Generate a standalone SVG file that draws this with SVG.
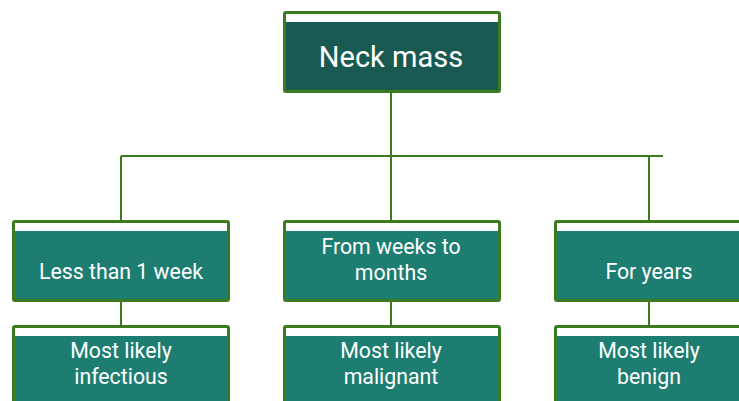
<svg xmlns="http://www.w3.org/2000/svg" width="739" height="401" viewBox="0 0 739 401">
<style>
.frame{fill:#ffffff;stroke:#3b7a1f;stroke-width:3}
.dark{fill:#185a52}
.teal{fill:#1e7d71}
.lbl{font-family:Roboto,"Liberation Sans",sans-serif;fill:#ffffff;text-anchor:middle;font-size:21.3px}
.conn{stroke:#3b7a1f;stroke-width:2;fill:none}
</style>
<rect width="739" height="401" fill="#ffffff"/>
<g id="connectors">
<path class="conn" d="M391 91V156M121 156H663M121 156V222M391 156V222M649 156V222"/>
<path class="conn" d="M121 300V326M391 300V326M649 300V326"/>
</g>
<g id="neck-mass">
<rect class="frame" x="284.5" y="12.5" width="215" height="79" rx="1.5"/>
<rect class="dark" x="286" y="22" width="212" height="68"/>
<text class="lbl" x="391" y="67" style="font-size:29px">Neck mass</text>
</g>
<g id="less-than-week">
<rect class="frame" x="13.5" y="221.5" width="215" height="79" rx="1.5"/>
<rect class="teal" x="15" y="231" width="212" height="68"/>
<text class="lbl" x="121" y="279">Less than 1 week</text>
</g>
<g id="weeks-months">
<rect class="frame" x="284.5" y="221.5" width="215" height="79" rx="1.5"/>
<rect class="teal" x="286" y="231" width="212" height="68"/>
<text class="lbl" x="391" y="254">From weeks to</text>
<text class="lbl" x="391" y="280">months</text>
</g>
<g id="for-years">
<rect class="frame" x="555.5" y="221.5" width="215" height="79" rx="1.5"/>
<rect class="teal" x="557" y="231" width="212" height="68"/>
<text class="lbl" x="649" y="279">For years</text>
</g>
<g id="infectious">
<rect class="frame" x="13.5" y="326.5" width="215" height="79" rx="1.5"/>
<rect class="teal" x="15" y="336" width="212" height="68"/>
<text class="lbl" x="121" y="358">Most likely</text>
<text class="lbl" x="121" y="384">infectious</text>
</g>
<g id="malignant">
<rect class="frame" x="284.5" y="326.5" width="215" height="79" rx="1.5"/>
<rect class="teal" x="286" y="336" width="212" height="68"/>
<text class="lbl" x="391" y="358">Most likely</text>
<text class="lbl" x="391" y="384">malignant</text>
</g>
<g id="benign">
<rect class="frame" x="555.5" y="326.5" width="215" height="79" rx="1.5"/>
<rect class="teal" x="557" y="336" width="212" height="68"/>
<text class="lbl" x="649" y="358">Most likely</text>
<text class="lbl" x="649" y="384">benign</text>
</g>
</svg>
